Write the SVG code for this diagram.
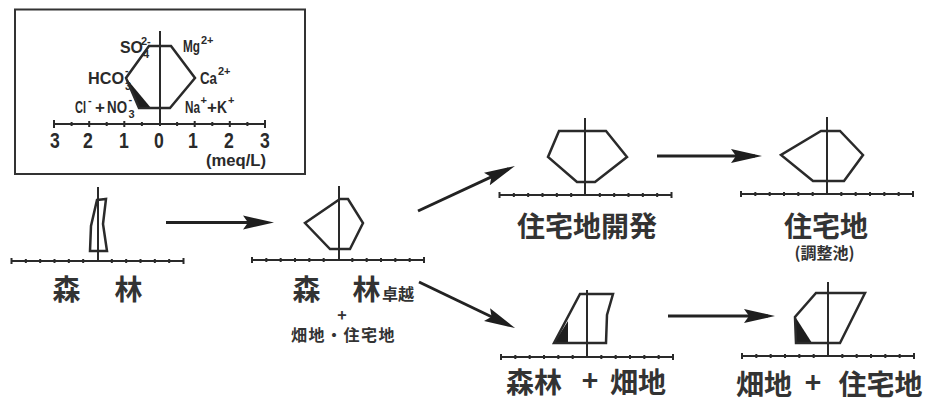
<svg xmlns="http://www.w3.org/2000/svg" width="930" height="398" viewBox="0 0 930 398">
<style>
.ln{stroke:#2a2a2a;stroke-width:2;fill:none}
.shape{stroke:#2a2a2a;stroke-width:2.5;fill:none;stroke-linejoin:miter}
.blk{fill:#1e1e1e;stroke:none}
.arrow{stroke:#222;stroke-width:3;fill:none}
.lg{font-family:"Liberation Sans",Arial,sans-serif;font-size:17px;font-weight:bold;fill:#2a2a2a}
.sm{font-size:11px}
.num{font-family:"Liberation Sans",Arial,sans-serif;font-size:22px;font-weight:bold;fill:#2a2a2a;text-anchor:middle}
.jp{font-family:"Noto Sans CJK JP","Noto Sans CJK SC",sans-serif;font-size:28px;font-weight:bold;fill:#333;text-anchor:middle}
.jps{font-family:"Noto Sans CJK JP","Noto Sans CJK SC",sans-serif;font-size:16px;font-weight:bold;fill:#333}
</style>
<defs>
<marker id="ah" markerUnits="userSpaceOnUse" markerWidth="34" markerHeight="18" refX="24" refY="8" orient="auto">
<path d="M0,1 L31,8 L0,15 L5,8 Z" fill="#1e1e1e"/>
</marker>
<g id="axis">
<path class="ln" d="M-86,0 H86"/>
<path class="ln" stroke-width="1.5" d="M-86,-3v6M-71.67,-2v4M-57.33,-2v4M-43,-2v4M-28.67,-2v4M-14.33,-2v4M14.33,-2v4M28.67,-2v4M43,-2v4M57.33,-2v4M71.67,-2v4M86,-3v6"/>
</g>
</defs>
<rect width="930" height="398" fill="#ffffff"/>

<g id="legend">
<rect x="15" y="9.5" width="290" height="164.5" fill="none" stroke="#333" stroke-width="2"/>
<path class="ln" d="M54,124 H265"/>
<path class="ln" stroke-width="1.5" d="M54,120v8M71.6,122v4M89.2,121v6M106.7,122v4M124.3,121v6M141.9,122v4M177.1,122v4M194.7,121v6M212.3,122v4M229.8,121v6M247.4,122v4M265,120v8"/>
<path class="ln" d="M160,31 V126"/>
<polygon class="blk" points="126,78 139,108 151,108"/>
<polygon class="shape" points="149,46 171,46 195,78 170,108 139,108 126,78"/>
<text class="lg"><tspan x="120" y="53" textLength="23" lengthAdjust="spacingAndGlyphs">SO</tspan><tspan class="sm" x="143" y="58">4</tspan><tspan class="sm" x="141" y="45">2-</tspan></text>
<text class="lg"><tspan x="183" y="52" textLength="17" lengthAdjust="spacingAndGlyphs">Mg</tspan><tspan class="sm" x="201" y="44">2+</tspan></text>
<text class="lg"><tspan x="88" y="84" textLength="36" lengthAdjust="spacingAndGlyphs">HCO</tspan><tspan class="sm" x="125" y="90">3</tspan><tspan class="sm" x="125" y="74">-</tspan></text>
<text class="lg"><tspan x="200" y="84" textLength="17" lengthAdjust="spacingAndGlyphs">Ca</tspan><tspan class="sm" x="218" y="75">2+</tspan></text>
<text class="lg"><tspan x="75" y="113" textLength="11" lengthAdjust="spacingAndGlyphs">Cl</tspan><tspan class="sm" x="88" y="104">-</tspan><tspan x="95" y="113">+</tspan><tspan x="107" y="113" textLength="20" lengthAdjust="spacingAndGlyphs">NO</tspan><tspan class="sm" x="128.5" y="118">3</tspan><tspan class="sm" x="128.5" y="103">-</tspan></text>
<text class="lg"><tspan x="185" y="113" textLength="15" lengthAdjust="spacingAndGlyphs">Na</tspan><tspan class="sm" x="200.5" y="104">+</tspan><tspan x="207" y="113">+</tspan><tspan x="217" y="113" textLength="10" lengthAdjust="spacingAndGlyphs">K</tspan><tspan class="sm" x="228" y="104">+</tspan></text>
<text class="num" transform="translate(55,148) scale(0.8,1)">3</text>
<text class="num" transform="translate(88,148) scale(0.8,1)">2</text>
<text class="num" transform="translate(124,148) scale(0.8,1)">1</text>
<text class="num" transform="translate(159,148) scale(0.8,1)">0</text>
<text class="num" transform="translate(193,148) scale(0.8,1)">1</text>
<text class="num" transform="translate(229,148) scale(0.8,1)">2</text>
<text class="num" transform="translate(265,148) scale(0.8,1)">3</text>
<text class="lg" x="206" y="166" textLength="60" lengthAdjust="spacingAndGlyphs" font-weight="normal">(meq/L)</text>
</g>

<g id="forest">
<use href="#axis" transform="translate(97.5,261)"/>
<path class="ln" d="M98,187 V262"/>
<polygon class="shape" stroke-width="2" points="97,200 106,199 103,224 107,251 90,251 91,226"/>
<text class="jp" x="66.5" y="300">森</text>
<text class="jp" x="128.5" y="300">林</text>
</g>

<g id="forest-dominant">
<use href="#axis" transform="translate(338,260)"/>
<path class="ln" d="M339,186 V261"/>
<polygon class="shape" points="340,199 348,199 363,223 350,249 330,249 305,223"/>
<text class="jp" x="306.5" y="300">森</text>
<text class="jp" x="366.5" y="300">林</text>
<text class="jps" x="382" y="300" font-size="15">卓越</text>
<text class="jps" x="342" y="321" font-size="20" text-anchor="middle">+</text>
<text class="jps" x="343.5" y="341" text-anchor="middle" letter-spacing="1.5">畑地・住宅地</text>
</g>

<g id="residential-development">
<use href="#axis" transform="translate(585.5,195)"/>
<path class="ln" d="M585,118 V196"/>
<polygon class="shape" points="559,131 606,131 627,157 595,182 577,182 548,157"/>
<text class="jp" x="587" y="237">住宅地開発</text>
</g>

<g id="residential">
<use href="#axis" transform="translate(827,194)"/>
<path class="ln" d="M827,117 V195"/>
<polygon class="shape" points="821,131 840,131 863,155 844,181 813,181 781,155"/>
<text class="jp" x="826" y="237">住宅地</text>
<text class="jps" x="824.5" y="259" font-size="15" text-anchor="middle">(調整池)</text>
</g>

<g id="forest-field">
<use href="#axis" transform="translate(587,357)"/>
<path class="ln" d="M587,290 V358"/>
<polygon class="blk" points="554,343 568,343 568,321"/>
<polygon class="shape" points="580,294 613,294 607,315 606,343 554,343"/>
<text class="jp" x="534" y="393">森林</text>
<text class="jp" x="590" y="391" font-size="24">+</text>
<text class="jp" x="638" y="393">畑地</text>
</g>

<g id="field-residential">
<use href="#axis" transform="translate(828,356)"/>
<path class="ln" d="M828,282 V357"/>
<polygon class="blk" points="796,318 796,343 812,343"/>
<polygon class="shape" points="816,293 865,293 840,343 796,343 795,317"/>
<text class="jp" x="764" y="395">畑地</text>
<text class="jp" x="813" y="393" font-size="24">+</text>
<text class="jp" x="880.5" y="395">住宅地</text>
</g>

<g id="connectors">
<path class="arrow" d="M166,222.5 L267,222.5" marker-end="url(#ah)"/>
<path class="arrow" d="M418,211 L508.6,168.9" marker-end="url(#ah)"/>
<path class="arrow" d="M419,282 L508.7,325" marker-end="url(#ah)"/>
<path class="arrow" d="M657,156 L755,156" marker-end="url(#ah)"/>
<path class="arrow" d="M668,316 L768,316" marker-end="url(#ah)"/>
</g>
</svg>
